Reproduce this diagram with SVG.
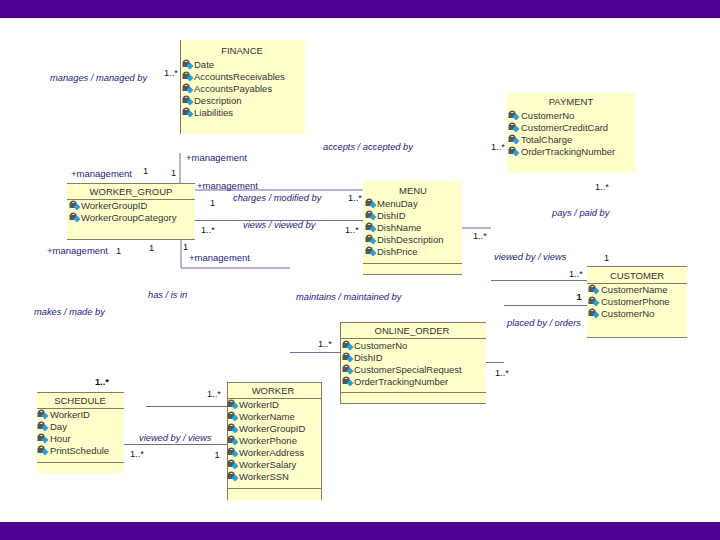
<svg xmlns="http://www.w3.org/2000/svg" xmlns:xlink="http://www.w3.org/1999/xlink" width="720" height="540" viewBox="0 0 720 540">
<style>
text{font-family:"Liberation Sans",Arial,sans-serif;font-size:9.5px;fill:#333}
.t{text-anchor:middle}
.box{fill:#ffffcc;stroke:none}
.b{stroke:#8a7a62;stroke-width:1;fill:none}
.c{stroke:#6c6ca8;stroke-width:1;fill:none}
.l{font-style:italic;fill:#1c1c80;font-size:9.3px}
.r{fill:#1c1c80;font-size:9.5px}
.m{fill:#111;font-size:9.2px}
</style>
<defs>
<g id="ic"><path d="M-4.500-1.500a2.800 2.800 0 0 1 5.500 0" fill="none" stroke="#555" stroke-width="1.400"/><rect x="-5.500" y="-2" width="7" height="5" fill="#555"/><path d="M2-1.500 5.500 2 2 5.500-1.500 2Z" fill="#2a9fd8"/></g>
</defs>
<rect width="720" height="540" fill="#fff"/>
<rect width="720" height="18" fill="#4b0092"/>
<rect y="522" width="720" height="18" fill="#4b0092"/>
<g id="connectors">
<path class="c" d="M180 153V183"/><path class="c" d="M195 190H363"/><path class="c" d="M195 220.500H363"/>
<path class="c" d="M181 239V268H290"/><path class="c" d="M462 228H491"/><path class="c" d="M491 280.500H587"/>
<path class="c" d="M504 305.500H587"/><path class="c" d="M290 352.500H340"/><path class="c" d="M486 362.500H504"/>
<path class="c" d="M146 406.500H227"/><path class="c" d="M124 444.500H227"/>
</g>
<g id="finance"><rect class="box" x="180" y="40" width="125" height="94"/><path class="b" d="M180.500 40V134"/><text class="t" x="242" y="54">FINANCE</text>
<use xlink:href="#ic" x="188" y="64"/><text x="194" y="68">Date</text>
<use xlink:href="#ic" x="188" y="76"/><text x="194" y="80">AccountsReceivables</text>
<use xlink:href="#ic" x="188" y="88"/><text x="194" y="92">AccountsPayables</text>
<use xlink:href="#ic" x="188" y="100"/><text x="194" y="104">Description</text>
<use xlink:href="#ic" x="188" y="112"/><text x="194" y="116">Liabilities</text></g>
<g id="payment"><rect class="box" x="507" y="93" width="128" height="80"/><text class="t" x="571" y="105">PAYMENT</text>
<use xlink:href="#ic" x="514" y="115"/><text x="521" y="119">CustomerNo</text>
<use xlink:href="#ic" x="514" y="127"/><text x="521" y="131">CustomerCreditCard</text>
<use xlink:href="#ic" x="514" y="139"/><text x="521" y="143">TotalCharge</text>
<use xlink:href="#ic" x="514" y="151"/><text x="521" y="155">OrderTrackingNumber</text></g>
<g id="worker_group"><rect class="box" x="67" y="183" width="128" height="56"/><path class="b" d="M67 183.500H195M67 199.500H195M67 239.500H195"/><text class="t" x="131" y="195">WORKER_GROUP</text>
<use xlink:href="#ic" x="75" y="205"/><text x="81" y="209">WorkerGroupID</text>
<use xlink:href="#ic" x="75" y="217"/><text x="81" y="221">WorkerGroupCategory</text></g>
<g id="menu"><rect class="box" x="363" y="181" width="99" height="93"/><path class="b" d="M363 263.500H462M363 274.500H462"/><text class="t" x="413" y="194">MENU</text>
<use xlink:href="#ic" x="371" y="203"/><text x="377" y="207">MenuDay</text>
<use xlink:href="#ic" x="371" y="215"/><text x="377" y="219">DishID</text>
<use xlink:href="#ic" x="371" y="227"/><text x="377" y="231">DishName</text>
<use xlink:href="#ic" x="371" y="239"/><text x="377" y="243">DishDescription</text>
<use xlink:href="#ic" x="371" y="251"/><text x="377" y="255">DishPrice</text></g>
<g id="customer"><rect class="box" x="587" y="266" width="100" height="71"/><path class="b" d="M587 266.500H687M587 283.500H687M587 337.500H687"/><text class="t" x="637" y="279">CUSTOMER</text>
<use xlink:href="#ic" x="594" y="289"/><text x="601" y="293">CustomerName</text>
<use xlink:href="#ic" x="594" y="301"/><text x="601" y="305">CustomerPhone</text>
<use xlink:href="#ic" x="594" y="313"/><text x="601" y="317">CustomerNo</text></g>
<g id="online_order"><rect class="box" x="340" y="322" width="146" height="81"/><path class="b" d="M340 322.500H486M340 338.500H486M340 392.500H486M340 403.500H486M340.500 322V403"/><text class="t" x="412" y="334">ONLINE_ORDER</text>
<use xlink:href="#ic" x="348" y="345"/><text x="354" y="349">CustomerNo</text>
<use xlink:href="#ic" x="348" y="357"/><text x="354" y="361">DishID</text>
<use xlink:href="#ic" x="348" y="369"/><text x="354" y="373">CustomerSpecialRequest</text>
<use xlink:href="#ic" x="348" y="381"/><text x="354" y="385">OrderTrackingNumber</text></g>
<g id="worker"><rect class="box" x="227" y="382" width="95" height="118"/><path class="b" d="M227 382.500H322M227 398.500H322M227 488.500H322M227.500 382V500M321.500 382V500"/><text class="t" x="273" y="394">WORKER</text>
<use xlink:href="#ic" x="233" y="404"/><text x="239" y="408">WorkerID</text>
<use xlink:href="#ic" x="233" y="416"/><text x="239" y="420">WorkerName</text>
<use xlink:href="#ic" x="233" y="428"/><text x="239" y="432">WorkerGroupID</text>
<use xlink:href="#ic" x="233" y="440"/><text x="239" y="444">WorkerPhone</text>
<use xlink:href="#ic" x="233" y="452"/><text x="239" y="456">WorkerAddress</text>
<use xlink:href="#ic" x="233" y="464"/><text x="239" y="468">WorkerSalary</text>
<use xlink:href="#ic" x="233" y="476"/><text x="239" y="480">WorkerSSN</text></g>
<g id="schedule"><rect class="box" x="37" y="392" width="87" height="81"/><path class="b" d="M37 392.500H124M37 408.500H124M37 462.500H124"/><text class="t" x="80" y="404">SCHEDULE</text>
<use xlink:href="#ic" x="43" y="414"/><text x="50" y="418">WorkerID</text>
<use xlink:href="#ic" x="43" y="426"/><text x="50" y="430">Day</text>
<use xlink:href="#ic" x="43" y="438"/><text x="50" y="442">Hour</text>
<use xlink:href="#ic" x="43" y="450"/><text x="50" y="454">PrintSchedule</text></g>
<g id="labels">
<text class="l" x="50" y="80.500">manages / managed by</text>
<text class="l" x="323" y="149.500">accepts / accepted by</text>
<text class="l" x="233" y="201">charges / modified by</text>
<text class="l" x="243" y="228">views / viewed by</text>
<text class="l" x="552" y="216">pays / paid by</text>
<text class="l" x="494" y="260">viewed by / views</text>
<text class="l" x="507" y="326">placed by / orders</text>
<text class="l" x="148" y="298">has / is in</text>
<text class="l" x="296" y="300">maintains / maintained by</text>
<text class="l" x="34" y="315">makes / made by</text>
<text class="l" x="139" y="441">viewed by / views</text>
<text class="r" x="186" y="161">+management</text>
<text class="r" x="71" y="177">+management</text>
<text class="r" x="197" y="189">+management</text>
<text class="r" x="47" y="254">+management</text>
<text class="r" x="189" y="261">+management</text>
<text class="m" x="164" y="76">1..*</text>
<text class="m" x="143" y="174">1</text><text class="m" x="171" y="176">1</text>
<text class="m" x="210" y="206">1</text><text class="m" x="201" y="233">1..*</text>
<text class="m" x="348" y="201">1..*</text><text class="m" x="345" y="233">1..*</text>
<text class="m" x="116" y="254">1</text><text class="m" x="149" y="251">1</text><text class="m" x="183" y="250">1</text>
<text class="m" x="491" y="150">1..*</text><text class="m" x="595" y="190">1..*</text>
<text class="m" x="473" y="239">1..*</text><text class="m" x="604" y="261">1</text>
<text class="m" x="569" y="276.500">1..*</text><text class="m" x="576.500" y="300" font-weight="bold">1</text>
<text class="m" x="318" y="347">1..*</text><text class="m" x="495" y="375.500">1..*</text>
<text class="m" x="95" y="385" font-weight="bold">1..*</text><text class="m" x="207" y="397">1..*</text>
<text class="m" x="130" y="457">1..*</text><text class="m" x="214.500" y="458">1</text>
</g>
</svg>
